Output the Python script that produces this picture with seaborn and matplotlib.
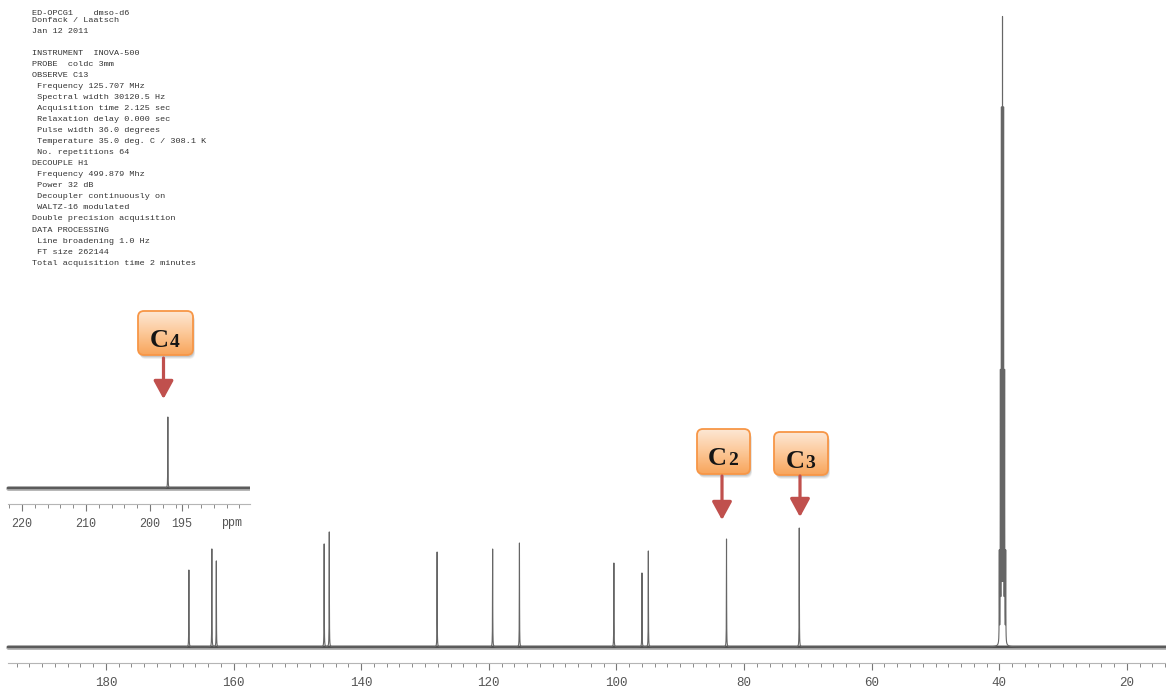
import numpy as np
import pandas as pd
import matplotlib
matplotlib.use("Agg")
import matplotlib.pyplot as plt
import seaborn as sns
from matplotlib.patches import FancyBboxPatch
from matplotlib.ticker import FixedLocator
from matplotlib.colors import LinearSegmentedColormap
from matplotlib.patches import ArrowStyle

# ---------------- data ----------------
peak_ppm = [167.0, 163.4, 162.7, 145.8, 145.0, 128.1, 119.4, 115.2,
            100.4, 96.0, 95.0, 82.75, 71.35]
peak_height = [77, 98, 86, 103, 115, 95, 98, 104, 84, 74, 96, 108, 119]
solvent_ppm = [39.0, 39.17, 39.33, 39.5, 39.67, 39.83, 40.0]      # DMSO-d6 septet
solvent_height = [90, 265, 525, 614, 525, 265, 90]
inset_ppm = [197.2]
inset_height = [71]

main_ticks = [180, 160, 140, 120, 100, 80, 60, 40, 20]
main_tick_labels = ["180", "160", "140", "120", "100", "80", "60", "40", "20"]
main_minor = list(range(14, 196, 2))
inset_ticks = [220, 210, 200, 195]
inset_tick_labels = ["220", "210", "200", "195"]
inset_minor = list(range(186, 223, 2))

main_range = (13.88, 195.3)
inset_range = (184.4, 222.2)

header_lines = [
    "INSTRUMENT  INOVA-500",
    "PROBE  coldc 3mm",
    "OBSERVE C13",
    " Frequency 125.707 MHz",
    " Spectral width 30120.5 Hz",
    " Acquisition time 2.125 sec",
    " Relaxation delay 0.000 sec",
    " Pulse width 36.0 degrees",
    " Temperature 35.0 deg. C / 308.1 K",
    " No. repetitions 64",
    "DECOUPLE H1",
    " Frequency 499.879 Mhz",
    " Power 32 dB",
    " Decoupler continuously on",
    " WALTZ-16 modulated",
    "Double precision acquisition",
    "DATA PROCESSING",
    " Line broadening 1.0 Hz",
    " FT size 262144",
    "Total acquisition time 2 minutes",
]
title_lines = ["ED-OPCG1    dmso-d6", "Donfack / Laatsch", "Jan 12 2011"]

callout_labels = ["4", "2", "3"]


def spectrum(lo, hi, ppms, heights, hwhm=0.02, step=0.005):
    grid = np.union1d(np.arange(lo, hi, step), np.asarray(ppms, float))
    y = np.zeros_like(grid)
    for p, h in zip(ppms, heights):
        y += h / (1.0 + ((grid - p) / hwhm) ** 2)
    return pd.DataFrame({"ppm": grid, "intensity": y})


def draw_trace(axis, df):
    base = df.iloc[[0, -1]].assign(intensity=0.0)
    sns.lineplot(data=base, x="ppm", y="intensity", ax=axis, color="#8a8a8a",
                 lw=3.4, alpha=0.7, estimator=None, errorbar=None)
    sns.lineplot(data=base, x="ppm", y="intensity", ax=axis, color="#4f4f4f",
                 lw=1.6, estimator=None, errorbar=None)
    sns.lineplot(data=df, x="ppm", y="intensity", ax=axis, color="#666666",
                 lw=0.8, estimator=None, errorbar=None, sort=False)


def style_axis(axis, ticks, labels, minor, bounds, labelsize):
    for s in ["top", "left", "right"]:
        axis.spines[s].set_visible(False)
    axis.spines["bottom"].set_bounds(*bounds)
    axis.spines["bottom"].set_color("#b5b5b5")
    axis.spines["bottom"].set_linewidth(0.8)
    axis.set_yticks([])
    axis.set_xticks(ticks)
    axis.set_xticklabels(labels)
    axis.xaxis.set_minor_locator(FixedLocator(minor))
    axis.tick_params(axis="x", which="major", direction="out", length=5, width=0.8,
                     color="#777777", pad=5, labelsize=labelsize,
                     labelcolor="#555555", bottom=True)
    axis.tick_params(axis="x", which="minor", direction="out", length=3, width=0.7,
                     color="#8a8a8a", bottom=True)
    for lbl in axis.get_xticklabels():
        lbl.set_fontfamily("Liberation Mono")
    axis.set_xlabel("")
    axis.set_ylabel("")


sns.set_style("white")
plt.rcParams["font.family"] = ["DejaVu Sans"]

W, H = 1166, 689
fig = plt.figure(figsize=(W / 100, H / 100), dpi=100)
fig.patch.set_facecolor("white")
mono = "Liberation Mono"

# ---------------- main spectrum ----------------
ax = fig.add_axes([0, 0, 1, 1])
ax.patch.set_alpha(0)
df_main = spectrum(main_range[0], main_range[1],
                   peak_ppm + solvent_ppm, peak_height + solvent_height)
draw_trace(ax, df_main)
ax.set_xlim(196.6, 13.88)
ax.set_ylim(-42, 647)
ax.spines["bottom"].set_position(("data", -16))
style_axis(ax, main_ticks, main_tick_labels, main_minor, (195.3, 13.88), 9)

# ---------------- inset (C4 region) ----------------
ax_in = fig.add_axes([0, (H - 504) / H, 250 / W, 104 / H])
ax_in.patch.set_alpha(0)
df_in = spectrum(inset_range[0], inset_range[1], inset_ppm, inset_height)
draw_trace(ax_in, df_in)
ax_in.set_xlim(223.46, 184.35)
ax_in.set_ylim(-16, 88)
style_axis(ax_in, inset_ticks, inset_tick_labels, inset_minor, (222.2, 184.4), 8.5)

# ---------------- overlay (text block, callouts) ----------------
ov = fig.add_axes([0, 0, 1, 1], zorder=5)
ov.set_xlim(0, W)
ov.set_ylim(H, 0)
ov.axis("off")
ov.patch.set_alpha(0)

ov.text(232, 523, "ppm", family=mono, fontsize=8.5, color="#555555",
        ha="center", va="center")

txt_kw = dict(family=mono, fontsize=6.1, color="#333333", ha="left", va="center")
for y, s in zip([13.5, 21, 31.5], title_lines):
    ov.text(32, y, s, **txt_kw)
for i, s in enumerate(header_lines):
    ov.text(32, 53.2 + 11.05 * i, s, **txt_kw)

cmap = LinearSegmentedColormap.from_list("og", ["#fde7d4", "#fcc898", "#f8a55c"])
grad = np.linspace(0, 1, 64).reshape(-1, 1)
arrow_style = ArrowStyle("-|>", head_length=0.55, head_width=0.3)

boxes = [(138, 311, 193, 355), (697, 429, 750, 474), (774, 432, 828, 475)]
arrows = [(163.5, 358, 399), (722, 476, 520), (800, 476, 517)]

for (x0, y0, x1, y1), (axx, a0, a1), num in zip(boxes, arrows, callout_labels):
    w, h = x1 - x0, y1 - y0
    for off, al in [(4, 0.06), (3, 0.08), (2, 0.10)]:
        sh = FancyBboxPatch((x0 + off * 0.5, y0 + off), w, h,
                            boxstyle="round,pad=0,rounding_size=6",
                            fc="black", ec="none", alpha=al, zorder=5)
        ov.add_patch(sh)
    box = FancyBboxPatch((x0, y0), w, h, boxstyle="round,pad=0,rounding_size=6",
                         fc="none", ec="#f79646", lw=1.3, zorder=7)
    ov.add_patch(box)
    im = ov.imshow(grad, cmap=cmap, extent=(x0, x1, y1, y0), aspect="auto",
                   zorder=6, interpolation="bilinear")
    im.set_clip_path(box)
    cx = (x0 + x1) / 2
    ov.text(cx + 3.5, y0 + 36, "C", family="Liberation Serif", fontweight="bold",
            fontsize=19, color="#151515", ha="right", va="baseline", zorder=8)
    ov.text(cx + 4.5, y0 + 36, num, family="Liberation Serif", fontweight="bold",
            fontsize=14, color="#151515", ha="left", va="baseline", zorder=8)
    ov.annotate("", xy=(axx, a1), xytext=(axx, a0),
                arrowprops=dict(arrowstyle=arrow_style, color="#c0504d", lw=2.3,
                                mutation_scale=20, shrinkA=0, shrinkB=0),
                zorder=8)

ov.set_xlim(0, W)
ov.set_ylim(H, 0)

fig.savefig("out.png", dpi=100, facecolor="white")
